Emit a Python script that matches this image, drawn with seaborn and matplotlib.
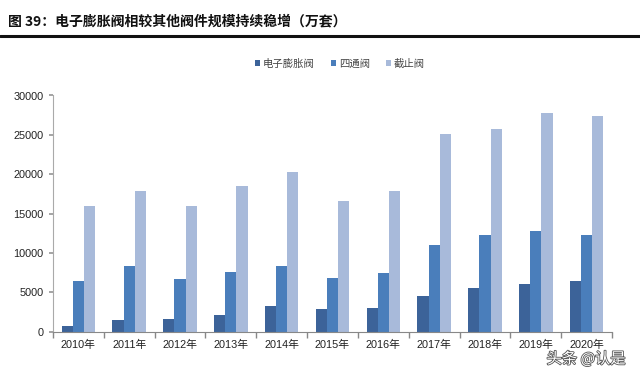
import matplotlib
matplotlib.use("Agg")
import matplotlib.pyplot as plt
import matplotlib.patheffects as pe
import seaborn as sns
import pandas as pd
from matplotlib.patches import Patch

years = ["2010年", "2011年", "2012年", "2013年", "2014年", "2015年",
         "2016年", "2017年", "2018年", "2019年", "2020年"]
series_names = ["电子膨胀阀", "四通阀", "截止阀"]
eev = [760, 1400, 1530, 2080, 3180, 2850, 3010, 4500, 5470, 6060, 6480]
four_way = [6440, 8310, 6700, 7590, 8310, 6830, 7500, 10980, 12290, 12760, 12290]
stop = [15890, 17800, 15900, 18520, 20300, 16580, 17800, 25090, 25730, 27800, 27380]
colors = ["#3C6399", "#4A7EBB", "#A8BADA"]
yticks = [0, 5000, 10000, 15000, 20000, 25000, 30000]

sns.set_theme(style="white")
plt.rcParams["font.family"] = ["Liberation Sans", "Noto Sans CJK SC", "DejaVu Sans"]

rows = []
for name, vals in zip(series_names, [eev, four_way, stop]):
    for y, v in zip(years, vals):
        rows.append({"year": y, "series": name, "value": v})
df = pd.DataFrame(rows)

fig = plt.figure(figsize=(6.4, 3.73), dpi=100)
ax = fig.add_axes([53/640, 1 - 331.5/373, (612-53)/640, (331.5-95.5)/373])

sns.barplot(data=df, x="year", y="value", hue="series", hue_order=series_names,
            palette=colors, width=0.66, gap=0, saturation=1, ax=ax,
            errorbar=None, legend=False, linewidth=0, edgecolor="none")

ax.set_ylim(0, 30000)
ax.set_xlim(-0.5, len(years) - 0.5)
ax.set_yticks(yticks)
ax.set_yticklabels([str(t) for t in yticks], fontsize=7.8, color="#222222")
ax.set_xlabel("")
ax.set_ylabel("")
ax.set_xticks(range(len(years)))
ax.set_xticklabels(years, fontsize=7.8, color="#222222")
ax.tick_params(axis="x", length=0, pad=6)
ax.tick_params(axis="y", length=3, color="#999999", direction="out", left=True, pad=4)
ax.set_xticks([i - 0.5 for i in range(len(years) + 1)], minor=True)
ax.tick_params(axis="x", which="minor", length=4, color="#888888", direction="out", bottom=True)
for s in ["top", "right"]:
    ax.spines[s].set_visible(False)
ax.spines["left"].set_color("#AAAAAA")
ax.spines["bottom"].set_color("#888888")
ax.spines["left"].set_linewidth(0.8)
ax.spines["bottom"].set_linewidth(0.8)

# Legend
handles = [Patch(facecolor=c, edgecolor="none") for c in colors]
fig.legend(handles, series_names, loc="center", bbox_to_anchor=(340/640, 1 - 64/373),
           ncol=3, frameon=False, handlelength=0.5, handleheight=0.5,
           handletextpad=0.3, columnspacing=1.5, labelcolor="#444444",
           prop={"family": ["Noto Sans CJK SC"], "size": 7.5})

# Title and rule
fig.text(8/640, 1 - 21/373, "图 39：电子膨胀阀相较其他阀件规模持续稳增（万套）",
         fontsize=10, fontweight="bold", color="#111111", va="center", ha="left",
         family=["Noto Sans CJK SC", "DejaVu Sans"])
fig.add_artist(plt.Line2D([0, 1], [1 - 36/373, 1 - 36/373], color="#111111", linewidth=2.2))

# Watermark
fig.text(586/640, 1 - 359/373, "头条 @认是", fontsize=11, color="#ffffff",
         ha="center", va="center", family=["Noto Sans CJK SC", "DejaVu Sans"],
         path_effects=[pe.withStroke(linewidth=1.2, foreground="#555555")])

fig.savefig("out.png", dpi=100)
